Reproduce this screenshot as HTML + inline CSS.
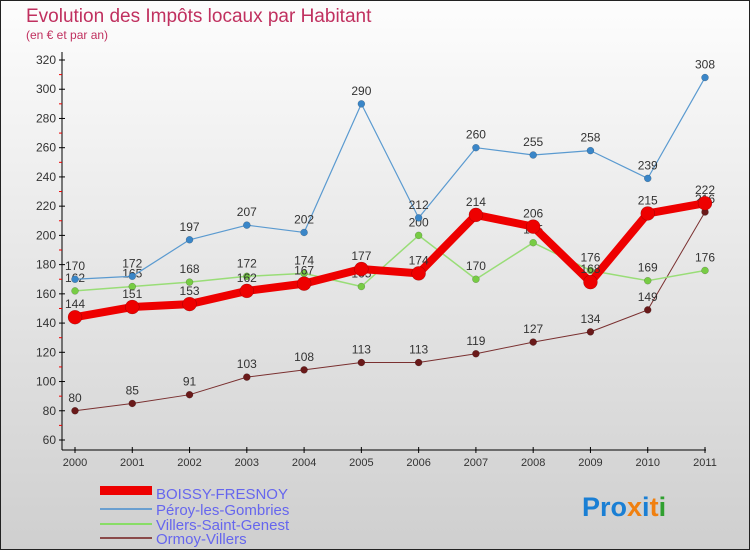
<!DOCTYPE html>
<html><head><meta charset="utf-8"><style>
body{margin:0;}
svg{display:block;font-family:"Liberation Sans",sans-serif;}
</style></head><body>
<svg id="c" width="750" height="550" viewBox="0 0 750 550">
<defs><linearGradient id="bg" x1="0" y1="0" x2="0" y2="1"><stop offset="0" stop-color="#fdfdfd"/><stop offset="1" stop-color="#cfcfcf"/></linearGradient></defs>
<rect x="0.5" y="0.5" width="749" height="549" fill="url(#bg)" stroke="#222"/>
<text x="26" y="22" font-size="19" fill="#c0305f">Evolution des Impôts locaux par Habitant</text>
<text x="26" y="39" font-size="12" fill="#c0305f">(en € et par an)</text>
<g id="axes"></g><g id="series"></g>
<g>
<rect x="100" y="486" width="52" height="9" fill="#e00"/>
<text x="156" y="499" font-size="15" fill="#6666ee">BOISSY-FRESNOY</text>
<line x1="100" y1="509" x2="152" y2="509" stroke="#6a9fd0" stroke-width="2"/>
<text x="156" y="515" font-size="15" fill="#6666ee">Péroy-les-Gombries</text>
<line x1="100" y1="524" x2="152" y2="524" stroke="#88dd66" stroke-width="2"/>
<text x="156" y="530" font-size="15" fill="#6666ee">Villers-Saint-Genest</text>
<line x1="100" y1="538" x2="152" y2="538" stroke="#8a4a4a" stroke-width="2"/>
<text x="156" y="544" font-size="15" fill="#6666ee">Ormoy-Villers</text>
</g>
<text x="582" y="516" font-size="27" font-weight="bold"><tspan fill="#1a7fd4">Pro</tspan><tspan fill="#f08010">x</tspan><tspan fill="#1a7fd4">i</tspan><tspan fill="#f08010">t</tspan><tspan fill="#30a030">i</tspan></text>
</svg>
<script>
const years=[2000,2001,2002,2003,2004,2005,2006,2007,2008,2009,2010,2011];
const yTicks=[60,80,100,120,140,160,180,200,220,240,260,280,300,320];
const boissy=[144,151,153,162,167,177,174,214,206,168,215,222];
const peroy=[170,172,197,207,202,290,212,260,255,258,239,308];
const villers=[162,165,168,172,174,165,200,170,195,176,169,176];
const ormoy=[80,85,91,103,108,113,113,119,127,134,149,216];
const NS="http://www.w3.org/2000/svg";
const xS=i=>75+i*(630/11);
const yS=v=>440-(v-60)*(380/260);
function mk(t,a,p){const e=document.createElementNS(NS,t);for(const k in a)e.setAttribute(k,a[k]);p.appendChild(e);return e;}
const ax=document.getElementById('axes');
let l=mk('line',{x1:62,y1:52,x2:62,y2:450,stroke:'#000'},ax);


l=mk('line',{x1:62,y1:450,x2:706,y2:450,stroke:'#000'},ax);


yTicks.forEach((v,i)=>{const y=yS(v);
mk('line',{x1:59,y1:y,x2:65,y2:y,stroke:'#000'},ax);
if(i<yTicks.length-1)mk('line',{x1:59,y1:y-(380/26),x2:62,y2:y-(380/26),stroke:'#e00'},ax);
const t=mk('text',{x:56,y:y+4,'font-size':12,'text-anchor':'end',fill:'#333'},ax);t.textContent=v;

});
years.forEach((yr,i)=>{const x=xS(i);
mk('line',{x1:x,y1:447,x2:x,y2:453,stroke:'#000'},ax);
const t=mk('text',{x:x,y:466,'font-size':11,'text-anchor':'middle',fill:'#333'},ax);t.textContent=yr;

});
const sg=document.getElementById('series');
function draw(data,name,color,w,r,dot){
const g=mk('g',{},sg);


mk('polyline',{points:data.map((v,i)=>xS(i)+','+yS(v)).join(' '),fill:'none',stroke:color,'stroke-width':w,'stroke-linejoin':'round'},g);
data.forEach((v,i)=>{const c=mk('circle',{cx:xS(i),cy:yS(v),r:r,fill:dot,stroke:'rgba(0,0,0,0.3)','stroke-width':0.5},g);


const t=mk('text',{x:xS(i),y:yS(v)-9,'font-size':12,'text-anchor':'middle',fill:'#333'},g);t.textContent=v;

});}
draw(ormoy,'ormoy','#7a3030',1,3.5,'#6a1a1a');
draw(villers,'villers','#99dd77',1.5,3.5,'#77cc44');
draw(peroy,'peroy','#5a9ad0',1.2,3.5,'#3a86c8');
draw(boissy,'boissy','#ee0000',8,7,'#ee0000');
</script>
</body></html>
